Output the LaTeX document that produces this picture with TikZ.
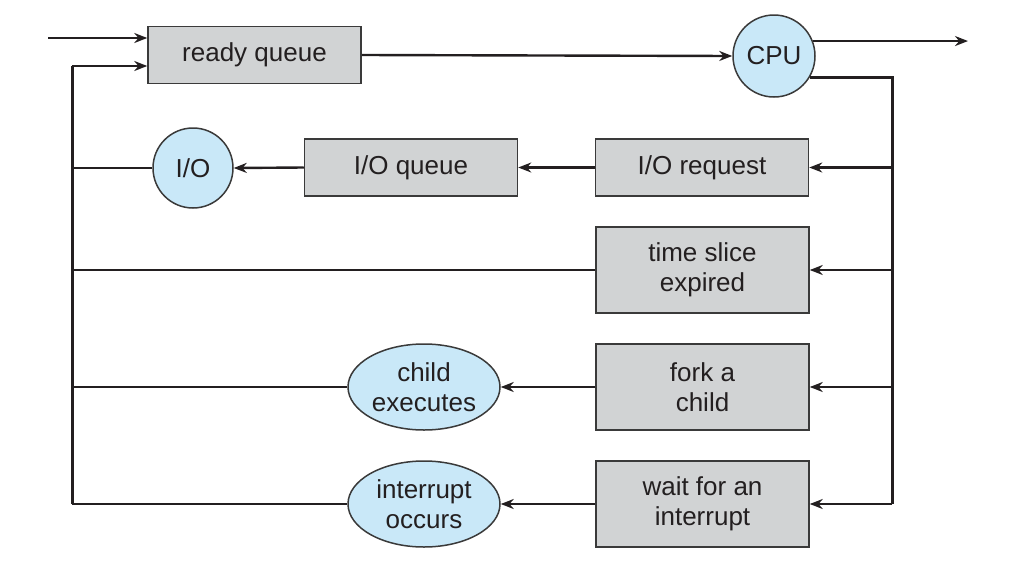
\documentclass[tikz,border=0pt]{standalone}
\usepackage{fontspec}
\setmainfont{Liberation Sans}
\usetikzlibrary{arrows.meta,shapes.geometric}
\definecolor{boxgray}{HTML}{D1D3D4}
\definecolor{circblue}{HTML}{C9E8F8}
\definecolor{ink}{HTML}{231F20}
\definecolor{edge}{HTML}{3A3A3A}
\begin{document}
\begin{tikzpicture}[x=1pt,y=-1pt,
  every node/.style={font=\fontsize{26}{30}\selectfont, text=ink, align=center, inner sep=0pt},
  qbox/.style={draw=edge, line width=1.5pt, fill=boxgray, rectangle, minimum width=213pt, minimum height=57pt},
  qcirc/.style={draw=edge, line width=1.5pt, fill=circblue, circle},
  qell/.style={draw=edge, line width=1.5pt, fill=circblue, ellipse, minimum width=152pt, minimum height=86pt},
  conn/.style={draw=ink, line width=2.4pt},
  arr/.style={conn, -{Stealth[length=13pt,width=10pt]}},
  thick conn/.style={draw=ink, line width=3pt}
]
\useasboundingbox (0,0) rectangle (1028,568);
\node[qbox] (rq) at (254.5,55) {ready queue};
\node[qcirc, minimum size=82pt] (cpu) at (774,56) {CPU};
\node[qcirc, minimum size=80pt] (io) at (193,168) {I/O};
\node[qbox] (ioq) at (411,167.5) {I/O queue};
\node[qbox] (ioreq) at (702,167.5) {I/O request};
\node[qbox, minimum height=86pt] (ts) at (702.5,270) {time slice\\expired};
\node[qbox, minimum height=86pt] (fork) at (702.5,387) {fork a\\child};
\node[qbox, minimum height=86pt] (wait) at (702.5,504) {wait for an\\interrupt};
\node[qell] (child) at (424,387) {child\\executes};
\node[qell] (intr) at (424,504) {interrupt\\occurs};

\coordinate (inL) at (48,38);
\coordinate (loopB) at (72,504);
\coordinate (loopT) at (72,66);
\coordinate (outR) at (968,41);
\coordinate (busT) at (892,77);
\coordinate (busB) at (892,504);

% entry and main path
\draw[arr] (inL) -- (inL -| rq.west);
\draw[arr] (rq.east) -- (cpu.west);
\draw[arr] (cpu.21.5) -- (cpu.21.5 -| outR);
% bus from CPU
\draw[thick conn] (cpu.-31) -- (cpu.-31 -| busT) -- (busB);
\draw[arr] (ioreq.east -| busT) -- (ioreq.east);
\draw[arr] (ts.east -| busT) -- (ts.east);
\draw[arr] (fork.east -| busT) -- (fork.east);
\draw[arr] (busB) -- (wait.east);
% middle arrows
\draw[arr] (ioreq.west) -- (ioq.east);
\draw[arr] (ioq.west) -- (io.east);
\draw[arr] (fork.west) -- (child.east);
\draw[arr] (wait.west) -- (intr.east);
% return loop
\draw[thick conn] (loopB) -- (loopT);
\draw[arr] (loopT) -- (loopT -| rq.west);
\draw[conn] (io.west) -- (io.west -| loopT);
\draw[conn] (ts.west) -- (ts.west -| loopT);
\draw[conn] (child.west) -- (child.west -| loopT);
\draw[conn] (intr.west) -- (loopB);
\end{tikzpicture}
\end{document}
